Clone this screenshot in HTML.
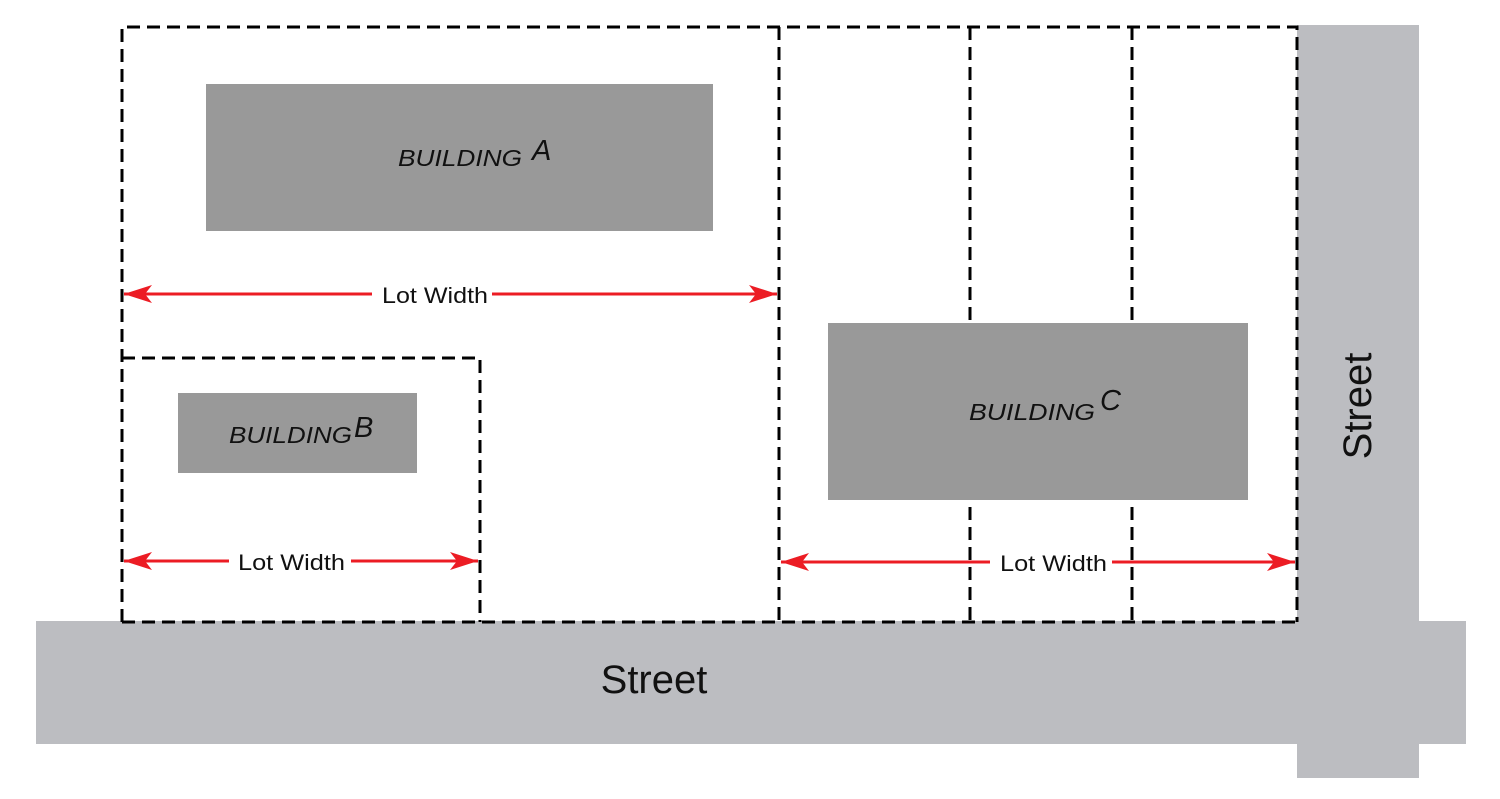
<!DOCTYPE html>
<html><head><meta charset="utf-8"><style>html,body{margin:0;padding:0;background:#fff}svg{display:block}</style></head>
<body>
<svg width="1500" height="799" viewBox="0 0 1500 799" xmlns="http://www.w3.org/2000/svg">
<defs>
<marker id="ah" markerWidth="30" markerHeight="20" refX="28" refY="10" orient="auto-start-reverse" markerUnits="userSpaceOnUse">
<path d="M0,1 L28,10 L0,19 L7,10 Z" fill="#ec1c24"/>
</marker>
</defs>
<rect x="36" y="621" width="1430" height="123" fill="#bcbdc1"/>
<rect x="1297" y="25" width="122" height="753" fill="#bcbdc1"/>
<g stroke="#000" stroke-width="3" fill="none" stroke-dasharray="13,7">
<path d="M122,622 V27 H1297 V622"/>
<path d="M122,622 H1297"/>
<path d="M779,27 V622"/>
<path d="M970,27 V622"/>
<path d="M1132,27 V622"/>
<path d="M122,358 H480 V622"/>
</g>
<rect x="206" y="84" width="507" height="147" fill="#999"/>
<rect x="178" y="393" width="239" height="80" fill="#999"/>
<rect x="828" y="323" width="420" height="177" fill="#999"/>
<g font-family="Liberation Sans, sans-serif" font-style="italic" fill="#111">
<text x="398" y="166" font-size="23" textLength="124" lengthAdjust="spacingAndGlyphs">BUILDING</text><text x="532" y="160" font-size="29">A</text>
<text x="229" y="443" font-size="23" textLength="123" lengthAdjust="spacingAndGlyphs">BUILDING</text><text x="354" y="437" font-size="29">B</text>
<text x="969" y="420" font-size="23" textLength="126" lengthAdjust="spacingAndGlyphs">BUILDING</text><text x="1100" y="410" font-size="29">C</text>
</g>
<g stroke="#ec1c24" stroke-width="3" fill="none">
<line x1="124" y1="294" x2="777" y2="294" marker-start="url(#ah)" marker-end="url(#ah)"/>
<line x1="124" y1="561" x2="478" y2="561" marker-start="url(#ah)" marker-end="url(#ah)"/>
<line x1="781" y1="562" x2="1295" y2="562" marker-start="url(#ah)" marker-end="url(#ah)"/>
</g>
<g font-family="Liberation Sans, sans-serif" font-size="22" fill="#111">
<rect x="372" y="282" width="120" height="26" fill="#fff"/><text x="382" y="303" textLength="106" lengthAdjust="spacingAndGlyphs">Lot Width</text>
<rect x="229" y="549" width="122" height="26" fill="#fff"/><text x="238" y="570" textLength="107" lengthAdjust="spacingAndGlyphs">Lot Width</text>
<rect x="990" y="550" width="122" height="26" fill="#fff"/><text x="1000" y="571" textLength="107" lengthAdjust="spacingAndGlyphs">Lot Width</text>
</g>
<g font-family="Liberation Sans, sans-serif" font-size="40" fill="#111" text-anchor="middle">
<text x="654" y="693">Street</text>
<text transform="translate(1371,406) rotate(-90)" x="0" y="0">Street</text>
</g>
</svg>
</body></html>
